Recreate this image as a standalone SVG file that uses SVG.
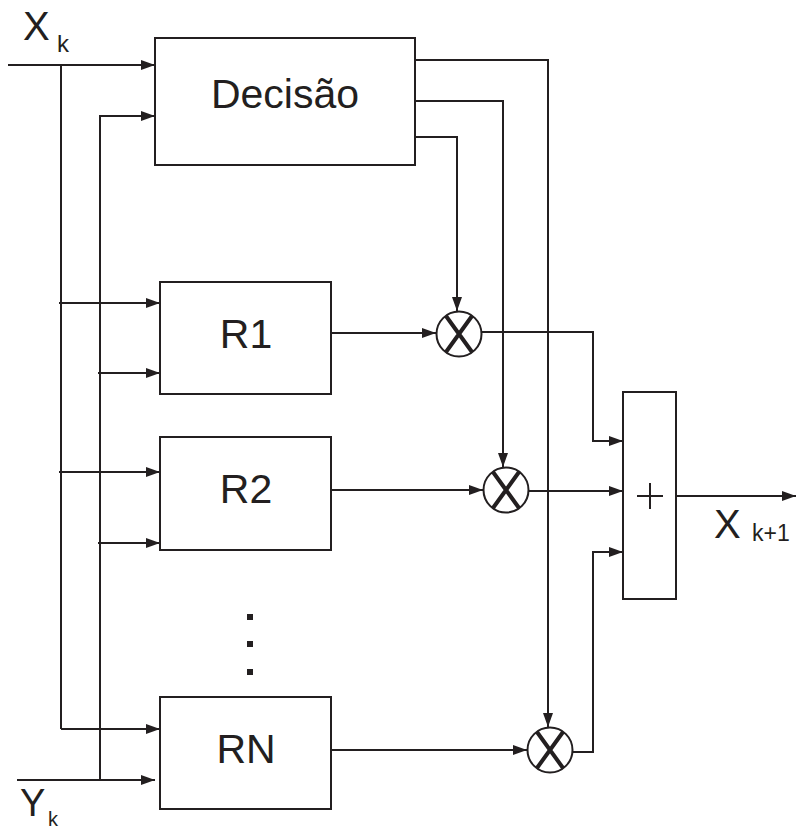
<svg xmlns="http://www.w3.org/2000/svg" width="796" height="831" viewBox="0 0 796 831">
<defs>
<marker id="ah" viewBox="0 0 14 10" refX="14" refY="5" markerWidth="14" markerHeight="10" markerUnits="userSpaceOnUse" orient="auto">
<path d="M0,0 L14,5 L0,10 Z" fill="#231f20"/>
</marker>
<style>
.box{fill:#fff;stroke:#231f20;stroke-width:2}
.ln{fill:none;stroke:#231f20;stroke-width:2}
.ar{fill:none;stroke:#231f20;stroke-width:2;marker-end:url(#ah)}
.circ{fill:#fff;stroke:#231f20;stroke-width:2}
.x{stroke:#231f20;stroke-width:4}
.t{font-family:"Liberation Sans",Arial,sans-serif;fill:#231f20}
</style>
</defs>
<rect width="796" height="831" fill="#fff"/>
<g id="connectors">
<path class="ar" d="M8,65 H155"/>
<path class="ln" d="M61,65 V729"/>
<path class="ar" d="M59,303 H160"/>
<path class="ar" d="M59,472 H160"/>
<path class="ar" d="M61,729 H160"/>
<path class="ar" d="M100,780 V116 H155"/>
<path class="ar" d="M98,373 H160"/>
<path class="ar" d="M98,543 H160"/>
<path class="ar" d="M17,780 H155"/>
<path class="ar" d="M415,60 H548 V727"/>
<path class="ar" d="M415,101 H503 V467"/>
<path class="ar" d="M415,137 H457 V311"/>
<path class="ar" d="M331,333 H436"/>
<path class="ar" d="M331,490 H483"/>
<path class="ar" d="M331,750 H527"/>
<path class="ar" d="M481,332 H593 V441 H623"/>
<path class="ar" d="M529,491 H623"/>
<path class="ar" d="M573,752 H593 V552 H623"/>
<path class="ar" d="M676,496 H796"/>
</g>
<g id="decisao">
<rect class="box" x="155" y="38" width="260" height="127"/>
<text class="t" x="285" y="108" font-size="41" text-anchor="middle">Decisão</text>
</g>
<g id="r1">
<rect class="box" x="160" y="282" width="171" height="112"/>
<text class="t" x="246" y="348" font-size="41" text-anchor="middle">R1</text>
</g>
<g id="r2">
<rect class="box" x="160" y="437" width="171" height="113"/>
<text class="t" x="246" y="503" font-size="41" text-anchor="middle">R2</text>
</g>
<g id="rn">
<rect class="box" x="160" y="697" width="171" height="112"/>
<text class="t" x="246" y="763" font-size="41" text-anchor="middle">RN</text>
</g>
<g id="dots" fill="#231f20">
<rect x="247" y="614" width="6" height="6"/>
<rect x="247" y="641" width="6" height="6"/>
<rect x="247" y="669" width="6" height="6"/>
</g>
<g id="mult1">
<circle class="circ" cx="459" cy="334" r="22.5"/>
<path class="x" d="M446,316 L472,352 M472,316 L446,352"/>
</g>
<g id="mult2">
<circle class="circ" cx="506" cy="490" r="22.5"/>
<path class="x" d="M493,472 L519,508 M519,472 L493,508"/>
</g>
<g id="mult3">
<circle class="circ" cx="550" cy="750" r="22.5"/>
<path class="x" d="M537,732 L563,768 M563,732 L537,768"/>
</g>
<g id="sum">
<rect class="box" x="623" y="392" width="53" height="207"/>
<path class="ln" d="M637,496 H663 M650,483 V509"/>
</g>
<g id="labels">
<text class="t" x="23" y="40" font-size="40">X</text>
<text class="t" x="57" y="52" font-size="24">k</text>
<text class="t" x="20" y="816" font-size="38">Y</text>
<text class="t" x="48" y="826" font-size="20">k</text>
<text class="t" x="714" y="538" font-size="40">X</text>
<text class="t" x="752" y="541" font-size="23">k+1</text>
</g>
</svg>
